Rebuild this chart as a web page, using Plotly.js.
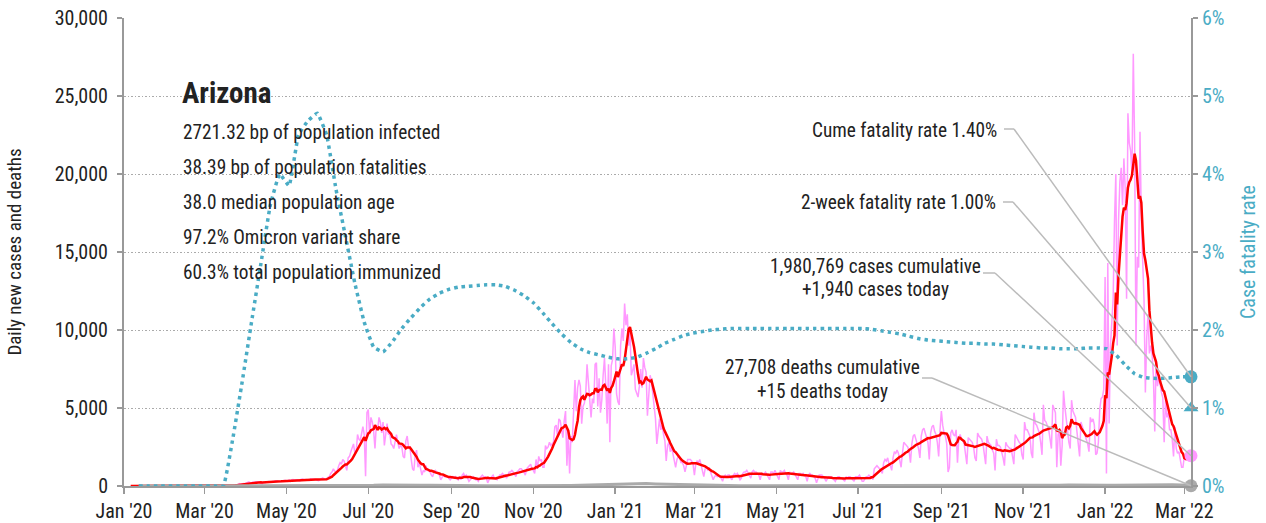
<!DOCTYPE html>
<html>
<head>
<meta charset="utf-8">
<script src="https://cdn.plot.ly/plotly-3.0.1.min.js"></script>
<style>
  html, body { margin: 0; padding: 0; background: #fff; }
  #chart { width: 1266px; height: 523px; }
</style>
</head>
<body>
<div id="chart"></div>
<script>
// ---------------- DATA ----------------
const stateName = 'Arizona';
const statLines = [
  '2721.32 bp of population infected',
  '38.39 bp of population fatalities',
  '38.0 median population age',
  '97.2% Omicron variant share',
  '60.3% total population immunized'
];
const firstDay = '2020-01-06';          // first day of the daily series (a Monday)
const rangeStart = '2020-01-01';
const rangeEnd = '2022-03-06';

// daily new cases, one row per week (Mon..Sun)
const dailyCases = [
  0,0,0,0,0,0,0,
  0,0,0,0,0,0,0,
  0,0,0,0,0,0,0,
  0,0,0,0,0,0,0,
  0,0,0,0,0,0,0,
  0,0,0,0,0,0,0,
  0,0,0,0,0,0,0,
  0,0,0,0,0,0,0,
  0,0,0,0,0,0,0,
  0,1,3,2,3,3,5,
  6,8,13,20,27,35,48,
  59,89,74,96,149,108,146,
  160,150,190,220,270,210,200,
  250,224,270,281,272,220,193,
  143,249,216,239,275,291,263,
  270,250,300,330,320,310,320,
  280,320,340,360,330,300,380,
  300,400,420,380,410,400,350,
  320,440,450,400,420,410,360,
  350,460,470,440,430,420,370,
  340,390,480,520,470,450,420,
  560,600,800,900,1100,950,900,
  1000,1300,1500,1400,1700,1600,1200,
  1000,1800,1900,2200,2400,2700,2100,
  2200,3300,3000,2900,3400,3800,3300,
  620,4700,4900,3300,4400,4100,3500,
  2400,3900,3600,4400,4100,3400,4100,
  2600,3300,4000,3300,3400,2700,2600,
  2400,2900,3300,2800,2400,2600,2500,
  1900,1800,2900,3200,2500,2500,1700,
  1100,1000,2000,2300,1200,1500,1100,
  700,1000,900,1300,1000,1000,900,
  700,600,900,1000,900,800,700,
  400,600,700,600,600,600,500,
  400,500,600,500,600,500,400,
  600,400,700,800,600,700,500,
  300,400,500,600,500,400,400,
  300,500,600,700,600,600,500,
  200,400,500,600,700,500,500,
  400,600,700,700,800,700,700,
  500,700,900,900,1000,900,700,
  600,900,1000,1100,1100,1000,900,
  700,1100,1200,1300,1400,1100,1000,
  800,1700,1100,1900,1600,1700,1200,
  1200,2600,2400,2500,2800,2600,2700,
  2800,3800,3900,3200,4300,4200,3700,
  3100,4200,4800,1300,3500,800,3200,
  2800,4600,6800,4800,6300,6800,6400,
  4000,5100,5300,5900,7800,6700,5900,
  4400,5600,5300,7800,7900,5100,6900,
  4700,5500,7100,8200,6400,4000,7800,
  2800,7700,8100,10100,8900,5900,5400,
  5200,9000,10100,9300,11700,10300,11000,
  9000,9900,7100,7400,7800,6200,5900,
  5700,6400,7500,6300,8200,7600,7300,
  4500,6000,7100,6700,5800,5100,4300,
  2700,3800,4300,3600,3900,3300,2900,
  1600,2600,2800,2200,2500,2100,1800,
  1200,1700,1900,1800,1500,1500,1300,
  900,1300,1700,1700,1700,1600,1400,
  700,1400,1600,1500,1700,1300,1000,
  600,1100,1200,1000,1200,900,700,
  400,600,700,600,700,600,500,
  300,600,700,600,700,700,500,
  400,700,800,700,800,600,400,
  500,800,900,900,1000,800,600,
  500,900,1000,900,900,800,700,
  400,800,800,800,900,700,600,
  400,900,900,800,1000,800,600,
  400,1000,900,900,1000,800,700,
  400,900,800,800,900,700,600,
  400,800,800,700,800,700,600,
  300,700,800,700,700,600,500,
  200,500,700,700,700,600,500,
  300,500,600,600,600,500,400,
  300,500,600,600,500,500,400,
  300,600,500,600,600,500,400,
  300,600,600,600,700,500,300,
  300,500,600,600,700,600,600,
  400,1100,1200,1300,1200,1100,1000,
  800,1500,1700,1600,1800,1400,1300,
  1000,1800,2200,2100,2300,2100,1600,
  1200,2100,2800,2700,2600,2500,2200,
  1500,2700,3200,3300,3000,2800,2400,
  1800,3200,3600,3700,3400,3000,2800,
  1700,3400,3800,3900,3500,3300,2800,
  1900,3600,4800,3900,3400,3200,2700,
  900,1200,3400,3600,3300,3200,3600,
  1500,3100,3300,3000,2900,2700,2100,
  1400,3100,3000,2900,2800,2500,1800,
  1600,3400,3200,3100,3000,2700,1900,
  1400,3200,2800,2700,2600,2300,2100,
  1000,3000,2600,2600,2500,2200,1800,
  1300,2800,2600,2500,2400,2400,1800,
  1400,3300,3100,2900,2800,2700,2000,
  1700,4100,3600,3600,3400,3200,2100,
  1800,4700,4000,3900,3600,3400,2800,
  2000,5200,4200,4100,3800,3600,3000,
  2400,5200,4900,4700,1200,3300,3500,
  1300,2600,6100,5100,4300,3700,2800,
  2400,5500,4800,4600,4400,3500,2800,
  1900,4100,3800,3600,3300,3000,2700,
  2200,4400,4100,4300,3900,2000,2100,
  2800,4900,5600,5700,6200,13400,800,
  14300,4000,9000,10500,12000,17000,20000,
  9000,17000,19500,20400,18000,21000,19000,
  12000,23900,22000,21500,20000,27700,22000,
  9000,14700,14000,22700,17000,15000,11900,
  6000,9500,11000,8500,9000,8500,7000,
  3500,8100,6400,7000,6400,6000,5650,
  2800,5600,4400,4700,3600,3600,3000,
  1900,3800,2400,2100,2200,1600,1200,
  1200,1900,1900,2000,2000,1800,1940
];

// weekly average daily deaths (value at the Sunday ending each week)
const weeklyDeaths = [
  0,0,0,0,0,0,0,0,0,0,0,
  1,4,8,10,12,13,13,15,13,13,13,
  17,21,30,43,60,70,75,70,56,47,34,26,17,
  13,10,9,9,7,9,10,13,17,21,26,34,43,
  60,77,95,120,146,163,155,129,112,86,69,52,39,30,21,
  10,10,10,10,10,10,10,10,10,10,10,10,10,10,10,10,
  9,10,13,17,21,26,30,34,34,30,30,30,34,34,39,43,47,52,52,52,60,69,69,60,52,
  43,52,60,77,86,86,77,60,43
];

// cumulative case fatality rate in percent (value at the Sunday ending each week)
const weeklyCFR = [
  0,0,0,0,0,0,0,0,0,0,
  0.6,1.33,2.1,2.85,3.6,4.0,3.85,4.5,4.68,4.78,4.5,3.8,3.2,2.6,2.1,1.78,1.72,1.85,
  2.02,2.16,2.29,2.4,2.47,2.52,2.55,2.56,2.57,2.58,2.58,2.56,2.51,2.44,2.35,2.22,2.08,1.95,1.84,1.76,
  1.71,1.68,1.65,1.63,1.63,1.65,1.7,1.76,1.83,1.88,1.93,1.96,1.98,2.0,2.01,
  2.02,2.02,2.02,2.02,2.02,2.02,2.02,2.02,2.02,2.02,2.02,2.02,2.02,2.02,2.02,
  2.01,1.99,1.97,1.95,1.92,1.89,1.87,1.86,1.85,1.84,1.83,1.83,1.82,1.82,1.81,1.8,1.79,1.78,1.77,1.77,
  1.76,1.76,1.76,1.77,1.77,1.76,1.68,1.55,1.44,1.39,1.38,1.38,1.39,1.40,1.40
];

const cumulativeCases = '1,980,769';
const casesToday = 1940;
const cumulativeDeaths = '27,708';
const deathsToday = 15;
const cumeFatalityRate = 1.40;
const twoWeekFatalityRate = 1.00;

// ---------------- DERIVED ----------------
function dayString(offset) {
  const p = firstDay.split('-').map(Number);
  return new Date(Date.UTC(p[0], p[1] - 1, p[2] + offset)).toISOString().slice(0, 10);
}
const dailyDates = dailyCases.map((_, i) => dayString(i));
const avgCases = dailyCases.map((_, i) => {
  const s = Math.max(0, i - 6);
  const win = dailyCases.slice(s, i + 1);
  return win.reduce((a, b) => a + b, 0) / win.length;
});
const weeklyDates = weeklyDeaths.map((_, k) => dayString(7 * k + 6));
const cfrDates = weeklyCFR.map((_, k) => dayString(7 * k + 6));
const lastDate = dailyDates[dailyDates.length - 1];

const TEAL = '#4aacc5';
const PINK = '#ff99ff';
const RED = '#ff0000';
const GREY = '#aaaaaa';
const FONT = "'Liberation Sans Narrow', 'Roboto Condensed', 'DejaVu Sans Condensed', 'Arial Narrow', sans-serif";
const TXT = '#222222';

// layout helpers: pixel position inside the 1266x523 picture -> paper coords
const PL = 124, PR = 1191, PT = 18, PB = 486;
const px = x => (x - PL) / (PR - PL);
const py = y => (PB - y) / (PB - PT);
const Y1MAX = 30000, Y2MAX = 0.06;

const traces = [
  { x: dailyDates, y: dailyCases, type: 'scatter', mode: 'lines',
    line: { color: PINK, width: 1.5 }, hoverinfo: 'skip' },
  { x: dailyDates, y: avgCases, type: 'scatter', mode: 'lines',
    line: { color: RED, width: 2.5 }, hoverinfo: 'skip' },
  { x: weeklyDates, y: weeklyDeaths, type: 'scatter', mode: 'lines',
    line: { color: GREY, width: 3 }, hoverinfo: 'skip' },
  { x: cfrDates, y: weeklyCFR.map(v => v / 100), type: 'scatter', mode: 'lines', yaxis: 'y2',
    line: { color: TEAL, width: 3.5, dash: '3.5px,4px', shape: 'spline', smoothing: 0.3 }, hoverinfo: 'skip' },
  { x: [lastDate], y: [deathsToday], type: 'scatter', mode: 'markers', cliponaxis: false,
    marker: { color: GREY, size: 13 } },
  { x: [lastDate], y: [casesToday], type: 'scatter', mode: 'markers', cliponaxis: false,
    marker: { color: PINK, size: 13 } },
  { x: [lastDate], y: [twoWeekFatalityRate / 100], type: 'scatter', mode: 'markers', yaxis: 'y2', cliponaxis: false,
    marker: { color: TEAL, size: 13, symbol: 'triangle-up' } },
  { x: [lastDate], y: [cumeFatalityRate / 100], type: 'scatter', mode: 'markers', yaxis: 'y2', cliponaxis: false,
    marker: { color: TEAL, size: 13 } }
];

const annotations = [];
function addText(text, x, y, anchor, size, extra) {
  annotations.push(Object.assign({
    text: text, xref: 'paper', yref: 'paper', x: px(x), y: py(y),
    xanchor: anchor, yanchor: 'middle', showarrow: false,
    font: { family: FONT, size: size, color: TXT }
  }, extra || {}));
}
addText('<b>' + stateName + '</b>', 180, 93, 'left', 29);
statLines.forEach((t, i) => addText(t, 181, 132 + 35 * i, 'left', 19.3));
addText('Cume fatality rate ' + cumeFatalityRate.toFixed(2) + '%', 999, 130, 'right', 19.3);
addText('2-week fatality rate ' + twoWeekFatalityRate.toFixed(2) + '%', 998, 202, 'right', 19.3);
addText(cumulativeCases + ' cases cumulative', 875, 266, 'center', 19.3);
addText('+' + casesToday.toLocaleString('en-US') + ' cases today', 875, 290, 'center', 19.3);
addText(cumulativeDeaths + ' deaths cumulative', 822, 367, 'center', 19.3);
addText('+' + deathsToday + ' deaths today', 822, 391, 'center', 19.3);

const LC = '#bbbbbb';
function callout(x0, y0, x1, yEndPaper) {
  return [
    { type: 'line', xref: 'paper', yref: 'paper', x0: px(x0), y0: py(y0), x1: px(x1), y1: py(y0),
      line: { color: LC, width: 1.5 } },
    { type: 'line', xref: 'paper', yref: 'paper', x0: px(x1), y0: py(y0), x1: 1, y1: yEndPaper,
      line: { color: LC, width: 1.5 } }
  ];
}
const shapes = [].concat(
  callout(1004, 129, 1014, cumeFatalityRate / 100 / Y2MAX),
  callout(1003, 202, 1013, twoWeekFatalityRate / 100 / Y2MAX),
  callout(983, 273, 995, casesToday / Y1MAX),
  callout(922, 378, 932, deathsToday / Y1MAX)
);

const layout = {
  width: 1266, height: 523,
  margin: { l: PL, r: 1266 - PR, t: PT, b: 523 - PB, pad: 0 },
  paper_bgcolor: '#ffffff', plot_bgcolor: '#ffffff',
  showlegend: false,
  font: { family: FONT, size: 20, color: TXT },
  xaxis: {
    type: 'date', range: [rangeStart, rangeEnd],
    tick0: '2020-01-01', dtick: 'M2', tickformat: "%b '%y",
    showgrid: false, zeroline: false,
    showline: true, linecolor: '#999999', linewidth: 2,
    ticks: 'outside', ticklen: 6, tickwidth: 1.5, tickcolor: '#999999',
    tickfont: { family: FONT, size: 20, color: TXT },
    automargin: false, fixedrange: true
  },
  yaxis: {
    range: [0, Y1MAX], dtick: 5000, tickformat: ',',
    showgrid: true, gridcolor: '#aaaaaa', griddash: '1.5px,2px', gridwidth: 1,
    zeroline: false, showline: true, linecolor: '#999999', linewidth: 2,
    ticks: 'outside', ticklen: 5, tickwidth: 1.5, tickcolor: '#999999',
    ticklabelstandoff: 5,
    tickfont: { family: FONT, size: 20, color: TXT },
    title: { text: 'Daily new cases and deaths', font: { family: FONT, size: 19, color: TXT }, standoff: 28 },
    automargin: false, fixedrange: true
  },
  yaxis2: {
    overlaying: 'y', side: 'right', range: [0, Y2MAX], dtick: 0.01, tickformat: '.0%',
    showgrid: false, zeroline: false, showline: true, linecolor: '#999999', linewidth: 2,
    ticks: 'outside', ticklen: 5, tickwidth: 1.5, tickcolor: '#999999',
    tickfont: { family: FONT, size: 20, color: TEAL },
    title: { text: 'Case fatality rate', font: { family: FONT, size: 20, color: TEAL }, standoff: 17 },
    automargin: false, fixedrange: true
  },
  annotations: annotations,
  shapes: shapes
};

Plotly.newPlot('chart', traces, layout, { displayModeBar: false, staticPlot: true });
</script>
</body>
</html>
